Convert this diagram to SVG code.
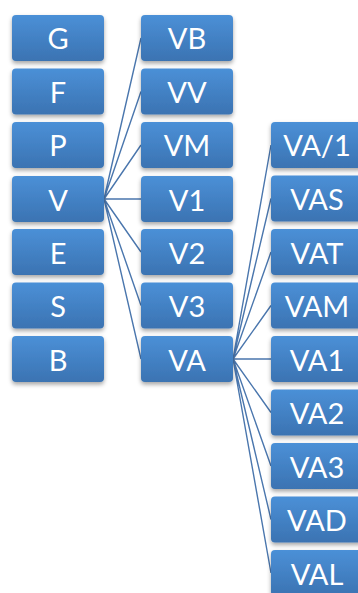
<svg xmlns="http://www.w3.org/2000/svg" width="358" height="593" viewBox="0 0 358 593">
<defs>
<linearGradient id="g" x1="0" y1="0" x2="0" y2="1">
<stop offset="0" stop-color="#4b90d7"/>
<stop offset="1" stop-color="#3b73b2"/>
</linearGradient>
<filter id="sh" x="-10%" y="-10%" width="120%" height="140%">
<feDropShadow dx="0" dy="2.5" stdDeviation="2" flood-color="#000" flood-opacity="0.35"/>
</filter>
</defs>
<style>
.b{fill:url(#g);filter:url(#sh)}
.t{fill:#fff;font-family:Lato,"Open Sans",sans-serif;font-size:29px;text-anchor:middle}
.c{stroke:#4a76ad;stroke-width:1.4;fill:none}
</style>
<g id="connectors">
<path class="c" d="M104 199L141 38M104 199L141 91.5M104 199L141 145M104 199L141 199M104 199L141 252M104 199L141 305.5M104 199L141 359"/>
<path class="c" d="M233 359L271 145M233 359L271 198.5M233 359L271 252M233 359L271 305.5M233 359L271 359M233 359L271 412.5M233 359L271 466M233 359L271 519.5M233 359L271 573"/>
</g>
<g id="G"><rect class="b" x="12" y="15" width="92" height="46" rx="4"/><text class="t" x="58" y="49">G</text></g>
<g id="F"><rect class="b" x="12" y="68.5" width="92" height="46" rx="4"/><text class="t" x="58" y="102.5">F</text></g>
<g id="P"><rect class="b" x="12" y="122" width="92" height="46" rx="4"/><text class="t" x="58" y="156">P</text></g>
<g id="V"><rect class="b" x="12" y="176" width="92" height="46" rx="4"/><text class="t" x="58" y="210.5">V</text></g>
<g id="E"><rect class="b" x="12" y="229" width="92" height="46" rx="4"/><text class="t" x="58" y="263.5">E</text></g>
<g id="S"><rect class="b" x="12" y="282.5" width="92" height="46" rx="4"/><text class="t" x="58" y="317">S</text></g>
<g id="B"><rect class="b" x="12" y="336" width="92" height="46" rx="4"/><text class="t" x="58" y="370.5">B</text></g>
<g id="VB"><rect class="b" x="141" y="15" width="92" height="46" rx="4"/><text class="t" x="187" y="49">VB</text></g>
<g id="VV"><rect class="b" x="141" y="68.5" width="92" height="46" rx="4"/><text class="t" x="187" y="102.5">VV</text></g>
<g id="VM"><rect class="b" x="141" y="122" width="92" height="46" rx="4"/><text class="t" x="187" y="156">VM</text></g>
<g id="V1"><rect class="b" x="141" y="176" width="92" height="46" rx="4"/><text class="t" x="187" y="210.5">V1</text></g>
<g id="V2"><rect class="b" x="141" y="229" width="92" height="46" rx="4"/><text class="t" x="187" y="263.5">V2</text></g>
<g id="V3"><rect class="b" x="141" y="282.5" width="92" height="46" rx="4"/><text class="t" x="187" y="317">V3</text></g>
<g id="VA"><rect class="b" x="141" y="336" width="92" height="46" rx="4"/><text class="t" x="187" y="370.5">VA</text></g>
<g id="VA_1"><rect class="b" x="271" y="122" width="92" height="46" rx="4"/><text class="t" x="317" y="156">VA/1</text></g>
<g id="VAS"><rect class="b" x="271" y="175.5" width="92" height="46" rx="4"/><text class="t" x="317" y="210">VAS</text></g>
<g id="VAT"><rect class="b" x="271" y="229" width="92" height="46" rx="4"/><text class="t" x="317" y="263.5">VAT</text></g>
<g id="VAM"><rect class="b" x="271" y="282.5" width="92" height="46" rx="4"/><text class="t" x="317" y="317">VAM</text></g>
<g id="VA1"><rect class="b" x="271" y="336" width="92" height="46" rx="4"/><text class="t" x="317" y="370.5">VA1</text></g>
<g id="VA2"><rect class="b" x="271" y="389.5" width="92" height="46" rx="4"/><text class="t" x="317" y="424">VA2</text></g>
<g id="VA3"><rect class="b" x="271" y="443" width="92" height="46" rx="4"/><text class="t" x="317" y="477.5">VA3</text></g>
<g id="VAD"><rect class="b" x="271" y="496.5" width="92" height="46" rx="4"/><text class="t" x="317" y="531">VAD</text></g>
<g id="VAL"><rect class="b" x="271" y="550" width="92" height="46" rx="4"/><text class="t" x="317" y="584.5">VAL</text></g>
</svg>
